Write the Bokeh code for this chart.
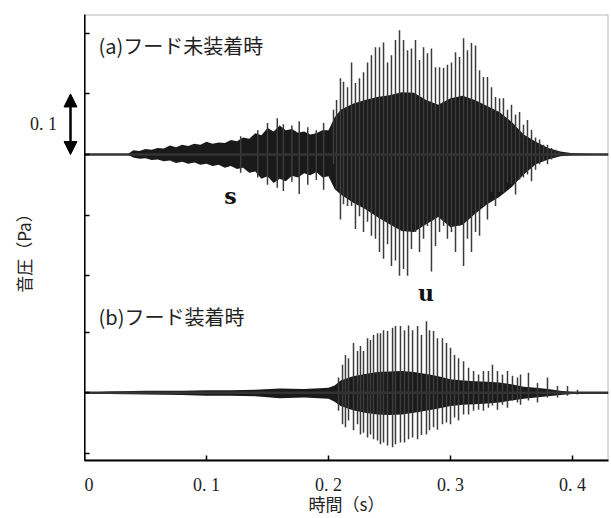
from bokeh.plotting import figure
from bokeh.models import Label, Arrow, NormalHead, FixedTicker, BoxAnnotation, Range1d
from bokeh.layouts import row
from bokeh.embed import file_html
from bokeh.resources import INLINE
import numpy as np

# ---------------- data ----------------
# (a) hood not attached : dense envelope (Pa)
a_env_t = [0.0, 0.035, 0.04, 0.045, 0.05, 0.055, 0.06, 0.065, 0.07, 0.075, 0.08, 0.085, 0.09, 0.095,
           0.10, 0.105, 0.11, 0.115, 0.12, 0.125, 0.13, 0.135, 0.14, 0.145, 0.15, 0.155, 0.16, 0.165,
           0.17, 0.175, 0.18, 0.185, 0.19, 0.195, 0.20, 0.205, 0.21, 0.22, 0.23, 0.24, 0.25, 0.26,
           0.27, 0.28, 0.29, 0.30, 0.31, 0.32, 0.33, 0.34, 0.35, 0.36, 0.37, 0.38, 0.39, 0.40, 0.43]
a_env_hi = [0.0, 0.0, 0.007, 0.006, 0.009, 0.008, 0.011, 0.010, 0.015, 0.012, 0.016, 0.014, 0.018, 0.016,
            0.021, 0.018, 0.020, 0.019, 0.024, 0.022, 0.028, 0.026, 0.035, 0.032, 0.044, 0.038, 0.048, 0.040,
            0.042, 0.036, 0.038, 0.033, 0.035, 0.040, 0.040, 0.061, 0.074, 0.084, 0.090, 0.095, 0.098, 0.103,
            0.102, 0.090, 0.082, 0.093, 0.097, 0.090, 0.080, 0.070, 0.054, 0.033, 0.021, 0.011, 0.005, 0.002, 0.0]
a_env_lo = [0.0, 0.0, -0.005, -0.007, -0.006, -0.009, -0.008, -0.011, -0.010, -0.014, -0.012, -0.015, -0.013, -0.017,
            -0.015, -0.019, -0.017, -0.022, -0.019, -0.024, -0.022, -0.030, -0.028, -0.040, -0.036, -0.047, -0.040, -0.044,
            -0.035, -0.038, -0.031, -0.034, -0.029, -0.038, -0.036, -0.057, -0.066, -0.079, -0.090, -0.103, -0.115, -0.126,
            -0.128, -0.115, -0.103, -0.120, -0.116, -0.098, -0.082, -0.070, -0.054, -0.033, -0.016, -0.008, -0.003, -0.001, 0.0]

# (a) individual peaks (s, Pa): noise bursts, then pitch periods
a_pk_t = [0.128, 0.142, 0.150, 0.158, 0.163, 0.170, 0.176, 0.183, 0.190, 0.196,
          0.2041, 0.2066, 0.2098, 0.2123, 0.2156, 0.2189, 0.2221, 0.2254, 0.2287, 0.2320, 0.2352, 0.2385,
          0.2418, 0.2451, 0.2484, 0.2516, 0.2549, 0.2582, 0.2615, 0.2648, 0.2680, 0.2713, 0.2746, 0.2779,
          0.2811, 0.2844, 0.2877, 0.2910, 0.2943, 0.2975, 0.3008, 0.3041, 0.3074, 0.3107, 0.3139, 0.3172,
          0.3205, 0.3238, 0.3270, 0.3303, 0.3336, 0.3369, 0.3402, 0.3434, 0.3467, 0.3500, 0.3533, 0.3566,
          0.3598, 0.3631, 0.3664, 0.3697, 0.3730, 0.3762, 0.3795, 0.3828, 0.3861, 0.3893]
a_pk_hi = [0.030, 0.040, 0.052, 0.060, 0.050, 0.048, 0.055, 0.045, 0.040, 0.052,
           0.074, 0.090, 0.126, 0.120, 0.111, 0.152, 0.118, 0.126, 0.136, 0.152, 0.164, 0.177,
           0.177, 0.185, 0.152, 0.164, 0.189, 0.205, 0.189, 0.172, 0.175, 0.189, 0.156, 0.177,
           0.167, 0.175, 0.144, 0.144, 0.143, 0.148, 0.152, 0.169, 0.161, 0.192, 0.172, 0.184,
           0.180, 0.139, 0.128, 0.128, 0.111, 0.095, 0.093, 0.093, 0.074, 0.082, 0.066, 0.070,
           0.049, 0.057, 0.041, 0.028, 0.025, 0.016, 0.016, 0.011, 0.008, 0.005]
a_pk_lo = [-0.030, -0.038, -0.050, -0.055, -0.060, -0.045, -0.065, -0.050, -0.042, -0.058,
           -0.016, -0.057, -0.107, -0.082, -0.085, -0.085, -0.123, -0.102, -0.128, -0.111, -0.134, -0.139,
           -0.161, -0.172, -0.148, -0.184, -0.175, -0.200, -0.189, -0.200, -0.156, -0.128, -0.161, -0.139,
           -0.118, -0.193, -0.151, -0.128, -0.118, -0.139, -0.128, -0.161, -0.118, -0.184, -0.139, -0.161,
           -0.128, -0.134, -0.085, -0.107, -0.062, -0.085, -0.062, -0.062, -0.046, -0.049, -0.066, -0.041,
           -0.038, -0.033, -0.044, -0.025, -0.016, -0.011, -0.016, -0.008, -0.005, -0.003]

# (b) hood attached : dense envelope (Pa, relative to its own baseline)
b_env_t = [0.0, 0.02, 0.05, 0.08, 0.10, 0.12, 0.14, 0.16, 0.18, 0.20, 0.205, 0.21, 0.22, 0.23, 0.24, 0.25,
           0.26, 0.27, 0.28, 0.29, 0.30, 0.31, 0.32, 0.33, 0.34, 0.35, 0.36, 0.37, 0.38, 0.39, 0.40, 0.43]
b_env_hi = [0.0, 0.002, 0.003, 0.003, 0.004, 0.004, 0.005, 0.007, 0.006, 0.008, 0.012, 0.020, 0.027, 0.031,
            0.034, 0.035, 0.036, 0.034, 0.031, 0.027, 0.022, 0.020, 0.019, 0.018, 0.017, 0.014, 0.010, 0.008,
            0.006, 0.003, 0.001, 0.0]
b_env_lo = [0.0, -0.002, -0.003, -0.004, -0.005, -0.005, -0.006, -0.009, -0.008, -0.010, -0.015, -0.022,
            -0.029, -0.033, -0.036, -0.037, -0.036, -0.033, -0.030, -0.026, -0.022, -0.020, -0.019, -0.018,
            -0.016, -0.013, -0.010, -0.008, -0.006, -0.004, -0.002, 0.0]

# (b) pitch-period peaks
b_pk_t = [0.2082, 0.2115, 0.2139, 0.2164, 0.2205, 0.2238, 0.2262, 0.2287, 0.2320, 0.2344, 0.2369, 0.2402,
          0.2426, 0.2451, 0.2484, 0.2525, 0.2549, 0.2590, 0.2623, 0.2656, 0.2689, 0.2730, 0.2762, 0.2803,
          0.2828, 0.2861, 0.2893, 0.2934, 0.2967, 0.3000, 0.3033, 0.3066, 0.3107, 0.3148, 0.3189, 0.3230,
          0.3270, 0.3311, 0.3344, 0.3385, 0.3426, 0.3467, 0.3508, 0.3549, 0.3574, 0.3639, 0.3713, 0.3795,
          0.3877, 0.3959, 0.4041]
b_pk_hi = [0.025, 0.046, 0.062, 0.057, 0.082, 0.069, 0.077, 0.069, 0.090, 0.087, 0.095, 0.098,
           0.098, 0.103, 0.102, 0.107, 0.110, 0.110, 0.103, 0.111, 0.103, 0.110, 0.095, 0.118,
           0.103, 0.102, 0.090, 0.090, 0.082, 0.074, 0.062, 0.057, 0.052, 0.041, 0.036, 0.030,
           0.036, 0.036, 0.046, 0.036, 0.030, 0.036, 0.028, 0.025, 0.030, 0.033, 0.016, 0.025,
           0.011, 0.011, 0.005]
b_pk_lo = [-0.030, -0.052, -0.057, -0.046, -0.062, -0.052, -0.069, -0.066, -0.074, -0.069, -0.077, -0.079,
           -0.085, -0.082, -0.087, -0.090, -0.085, -0.082, -0.082, -0.077, -0.074, -0.077, -0.070, -0.069,
           -0.062, -0.057, -0.061, -0.052, -0.049, -0.052, -0.041, -0.046, -0.036, -0.036, -0.030, -0.028,
           -0.030, -0.025, -0.021, -0.028, -0.020, -0.025, -0.013, -0.016, -0.020, -0.013, -0.016, -0.008,
           -0.008, -0.005, -0.003]

x_ticks = [0, 0.1, 0.2, 0.3, 0.4]
x_tick_labels = ["0", "0. 1", "0. 2", "0. 3", "0. 4"]
y_ticks = [0.2, 0.1, 0.0, -0.1, -0.2, -0.293, -0.393, -0.493]
b_offset = -0.393   # vertical offset of trace (b)
scale_bar = 0.1     # length of the scale arrow (Pa)

# ---------------- layout constants ----------------
H = 518
TOP = 14
BOTTOM = H - 463
LEFT_W = 84

SERIF = "Liberation Serif"
JP = "Noto Sans CJK JP"
TXT = "#222222"

yr = Range1d(-0.5049, 0.2311)

# ---------------- main figure ----------------
p = figure(width=526, height=H, output_backend="svg", toolbar_location=None,
           x_range=(0, 0.4295), y_range=yr,
           min_border_left=0, min_border_right=2, min_border_top=TOP, min_border_bottom=BOTTOM)
p.grid.visible = False
p.outline_line_color = None

p.xaxis.ticker = FixedTicker(ticks=x_ticks)
p.xaxis.major_label_overrides = {t: l for t, l in zip(x_ticks, x_tick_labels)}
p.xaxis.major_label_text_font = SERIF
p.xaxis.major_label_text_font_size = "18px"
p.xaxis.major_label_text_color = TXT
p.xaxis.major_label_standoff = 14
p.xaxis.major_tick_in = 5
p.xaxis.major_tick_out = 0
p.xaxis.minor_tick_line_color = None
p.xaxis.axis_line_width = 2
p.xaxis.major_tick_line_width = 1.5
p.xaxis.axis_label = "時間（s）"
p.xaxis.axis_label_text_font = JP
p.xaxis.axis_label_text_font_size = "17px"
p.xaxis.axis_label_text_font_style = "normal"
p.xaxis.axis_label_text_color = TXT
p.xaxis.axis_label_standoff = -7

p.yaxis.ticker = FixedTicker(ticks=y_ticks)
p.yaxis.major_label_overrides = {t: "" for t in y_ticks}
p.yaxis.major_label_standoff = 0
p.yaxis.major_tick_in = 5
p.yaxis.major_tick_out = 0
p.yaxis.minor_tick_line_color = None
p.yaxis.axis_line_width = 2
p.yaxis.major_tick_line_width = 1.5

# frame border
p.add_layout(BoxAnnotation(fill_alpha=0, line_color="#111111", line_width=2))

# trace (a)
p.varea(x=a_env_t, y1=a_env_lo, y2=a_env_hi, fill_color="#1a1a1a")
p.segment(x0=a_pk_t, y0=a_pk_lo, x1=a_pk_t, y1=a_pk_hi, line_color="#3c3c3c", line_width=1.5)
p.line(x=[0, 0.4295], y=[0, 0], line_color="#333333", line_width=2.5)

# trace (b)
p.varea(x=b_env_t, y1=[v + b_offset for v in b_env_lo], y2=[v + b_offset for v in b_env_hi],
        fill_color="#1a1a1a")
p.segment(x0=b_pk_t, y0=[v + b_offset for v in b_pk_lo], x1=b_pk_t, y1=[v + b_offset for v in b_pk_hi],
          line_color="#3c3c3c", line_width=1.5)
p.line(x=[0, 0.4295], y=[b_offset, b_offset], line_color="#333333", line_width=2.5)

# texts inside the frame
p.add_layout(Label(x=0.0115, y=0.180, text="(a)フード未装着時", text_font=JP, text_font_size="20px",
                   text_color=TXT, text_baseline="middle", text_align="left"))
p.add_layout(Label(x=0.0115, y=-0.267, text="(b)フード装着時", text_font=JP, text_font_size="20px",
                   text_color=TXT, text_baseline="middle", text_align="left"))
p.add_layout(Label(x=0.1197, y=-0.068, text="s", text_font="DejaVu Serif", text_font_size="22px",
                   text_font_style="bold", text_color="#111111", text_baseline="middle", text_align="center"))
p.add_layout(Label(x=0.280, y=-0.228, text="u", text_font="DejaVu Serif", text_font_size="22px",
                   text_font_style="bold", text_color="#111111", text_baseline="middle", text_align="center"))

# ---------------- left strip: scale arrow and y title ----------------
q = figure(width=LEFT_W, height=H, output_backend="svg", toolbar_location=None,
           x_range=(0, LEFT_W), y_range=yr, x_axis_location=None, y_axis_location=None,
           min_border_left=0, min_border_right=0, min_border_top=TOP, min_border_bottom=BOTTOM)
q.grid.visible = False
q.outline_line_color = None

q.add_layout(Arrow(x_start=LEFT_W - 14, y_start=0.0, x_end=LEFT_W - 14, y_end=scale_bar,
                   line_width=2.5, line_color="black",
                   start=NormalHead(size=13, fill_color="black", line_color="black"),
                   end=NormalHead(size=13, fill_color="black", line_color="black")))
q.add_layout(Label(x=LEFT_W - 41, y=scale_bar / 2, text="0. 1", text_font=SERIF, text_font_size="18px",
                   text_color=TXT, text_baseline="middle", text_align="center"))
q.add_layout(Label(x=LEFT_W - 61, y=-0.156, text="音圧（Pa）", text_font=JP, text_font_size="17px",
                   text_color=TXT, text_baseline="middle", text_align="center", angle=np.pi / 2))

layout = row(q, p)
open("out.html", "w").write(file_html(layout, INLINE))
